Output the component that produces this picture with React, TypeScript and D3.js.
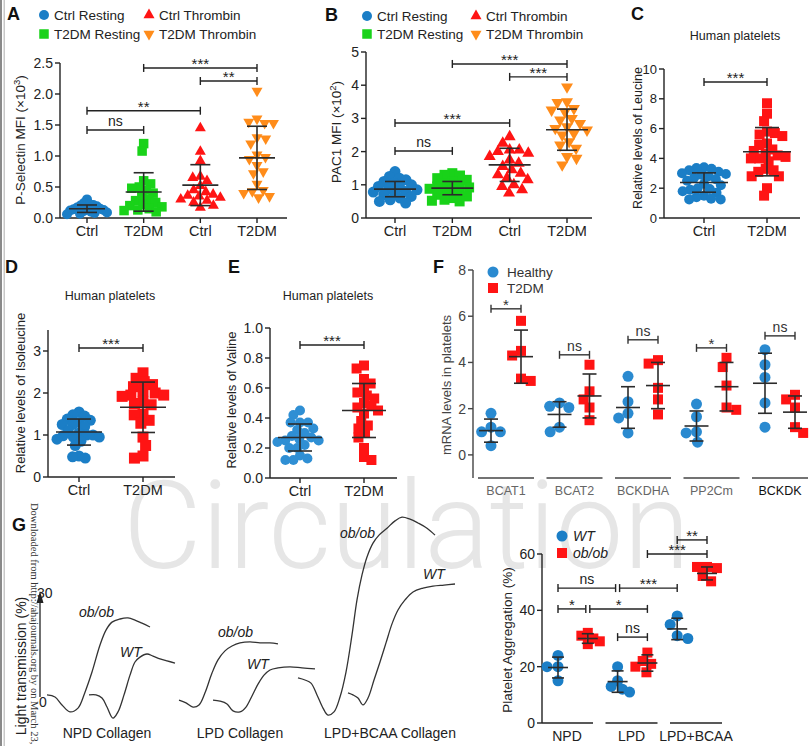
import React from 'react';
import * as d3 from 'd3';

const FONT = "'Liberation Sans', Arial, Helvetica, sans-serif";
const SERIF = "'Liberation Serif', 'DejaVu Serif', serif";
const INK = '#222222';
const ERR = '#2b2b2b';
const BLUE = '#1b7ec6';
const GREEN = '#19d219';
const RED = '#ff1414';
const ORANGE = '#ff8c1a';

// ---------- Panel A ----------
const abCategories = ['Ctrl', 'T2DM', 'Ctrl', 'T2DM'];
const abLegend = ['Ctrl Resting', 'Ctrl Thrombin', 'T2DM Resting', 'T2DM Thrombin'];
const aTicks = [0, 0.5, 1.0, 1.5, 2.0, 2.5];
const aCtrlResting = [0.30, 0.24, 0.22, 0.21, 0.20, 0.19, 0.17, 0.16, 0.15, 0.14, 0.13, 0.12, 0.11, 0.10, 0.09, 0.08, 0.07, 0.06];
const aT2dmResting = [1.20, 1.08, 0.60, 0.55, 0.50, 0.48, 0.45, 0.40, 0.35, 0.30, 0.28, 0.25, 0.22, 0.20, 0.18, 0.15, 0.13, 0.12, 0.10];
const aCtrlThrombin = [1.45, 1.07, 0.92, 0.67, 0.65, 0.60, 0.52, 0.45, 0.42, 0.38, 0.36, 0.35, 0.33, 0.30, 0.28, 0.25, 0.20, 0.17];
const aT2dmThrombin = [2.05, 1.60, 1.55, 1.53, 1.53, 1.30, 1.28, 1.20, 1.02, 0.98, 0.95, 0.85, 0.75, 0.72, 0.55, 0.45, 0.43, 0.40, 0.35, 0.33];
const aMean = [0.15, 0.42, 0.53, 0.97];
const aSd = [0.06, 0.31, 0.33, 0.51];
const aSigFrom = [0, 0, 1, 2];
const aSigTo = [1, 2, 3, 3];
const aSigLevel = [1.42, 1.73, 2.42, 2.21];
const aSigLabel = ['ns', '**', '***', '**'];

// ---------- Panel B ----------
const bTicks = [0, 1, 2, 3, 4, 5];
const bCtrlResting = [1.40, 1.25, 1.20, 1.15, 1.10, 1.05, 1.00, 0.95, 0.92, 0.88, 0.85, 0.80, 0.78, 0.75, 0.70, 0.65, 0.60, 0.55, 0.50, 0.45];
const bT2dmResting = [1.35, 1.30, 1.28, 1.20, 1.15, 1.10, 1.05, 1.00, 0.95, 0.92, 0.88, 0.85, 0.80, 0.75, 0.70, 0.65, 0.60, 0.55, 0.52, 0.50];
const bCtrlThrombin = [2.45, 2.25, 2.05, 2.05, 2.00, 1.95, 1.85, 1.75, 1.65, 1.55, 1.45, 1.35, 1.30, 1.20, 1.15, 1.00, 0.95, 0.85, 0.75];
const bT2dmThrombin = [3.95, 3.50, 3.48, 3.30, 3.25, 3.20, 3.00, 2.95, 2.85, 2.75, 2.70, 2.65, 2.55, 2.50, 2.30, 2.20, 2.10, 1.85, 1.80, 1.60];
const bMean = [0.87, 0.90, 1.60, 2.66];
const bSd = [0.23, 0.20, 0.50, 0.62];
const bSigFrom = [0, 0, 1, 2];
const bSigTo = [1, 2, 3, 3];
const bSigLevel = [2.02, 2.86, 4.64, 4.25];
const bSigLabel = ['ns', '***', '***', '***'];

// ---------- Panels C, D, E ----------
const cdeCategories = ['Ctrl', 'T2DM'];
const humanTitle = 'Human platelets';
const cTicks = [0, 2, 4, 6, 8, 10];
const cCtrl = [3.40, 3.35, 3.30, 3.20, 3.10, 3.00, 2.95, 2.90, 2.80, 2.70, 2.60, 2.50, 2.30, 2.20, 2.00, 1.95, 1.90, 1.80, 1.70, 1.50, 1.40, 1.30, 1.25, 1.25];
const cT2dm = [7.70, 7.00, 6.50, 5.80, 5.70, 5.60, 5.50, 5.00, 4.90, 4.60, 4.50, 4.30, 4.20, 4.10, 4.00, 4.00, 3.80, 3.30, 3.20, 3.10, 2.80, 2.80, 2.00, 1.50];
const cMean = [2.38, 4.45];
const cSd = [0.65, 1.62];
const cSigLevel = 9.13;

const dTicks = [0, 1, 2, 3];
const dCtrl = [1.55, 1.48, 1.45, 1.38, 1.35, 1.30, 1.25, 1.25, 1.20, 1.10, 1.05, 1.00, 1.00, 0.98, 0.95, 0.95, 0.90, 0.85, 0.75, 0.50, 0.48, 0.45];
const dT2dm = [2.48, 2.35, 2.27, 2.20, 2.15, 2.05, 2.00, 1.95, 1.95, 1.92, 1.80, 1.75, 1.72, 1.50, 1.48, 1.35, 1.28, 0.95, 0.75, 0.50, 0.45];
const dMean = [1.07, 1.66];
const dSd = [0.31, 0.60];
const dSigLevel = 3.07;

const eTicks = [0, 0.2, 0.4, 0.6, 0.8, 1.0];
const eCtrl = [0.45, 0.42, 0.37, 0.37, 0.37, 0.33, 0.32, 0.30, 0.28, 0.27, 0.26, 0.25, 0.25, 0.24, 0.22, 0.20, 0.20, 0.15, 0.13, 0.12, 0.12];
const eT2dm = [0.75, 0.73, 0.66, 0.63, 0.60, 0.57, 0.55, 0.53, 0.50, 0.48, 0.47, 0.45, 0.43, 0.38, 0.35, 0.33, 0.30, 0.27, 0.20, 0.14, 0.12];
const eMean = [0.27, 0.45];
const eSd = [0.09, 0.18];
const eSigLevel = 0.887;

// ---------- Panel F ----------
const fGenes = ['BCAT1', 'BCAT2', 'BCKDHA', 'PP2Cm', 'BCKDK'];
const fLegend = ['Healthy', 'T2DM'];
const fTicks = [0, 2, 4, 6, 8];
const fHealthy = [
  [1.8, 1.2, 1.0, 1.0, 0.4],
  [2.25, 2.1, 2.05, 1.2, 1.0],
  [3.4, 2.3, 1.8, 1.6, 0.95],
  [2.2, 1.65, 1.0, 0.95, 0.55],
  [4.55, 3.9, 3.35, 2.25, 1.2],
];
const fT2dm = [
  [5.8, 4.5, 4.3, 3.3, 3.2],
  [3.9, 2.75, 2.4, 2.05, 1.5],
  [4.1, 3.95, 2.9, 2.4, 1.75],
  [4.2, 3.8, 3.0, 2.05, 1.95],
  [2.6, 2.4, 2.05, 1.2, 0.95],
];
const fHealthyMean = [1.05, 1.75, 2.05, 1.25, 3.1];
const fHealthySd = [0.5, 0.55, 0.9, 0.65, 1.3];
const fT2dmMean = [4.25, 2.55, 3.0, 2.95, 1.85];
const fT2dmSd = [1.15, 0.95, 1.0, 1.05, 0.7];
const fSigLabel = ['*', 'ns', 'ns', '*', 'ns'];
const fSigLevel = [6.32, 4.33, 4.98, 4.63, 5.15];

// ---------- Panel G (traces) ----------
const gConditions = ['NPD Collagen', 'LPD Collagen', 'LPD+BCAA Collagen'];
const npdObT = [2, 10, 17, 25, 33, 40, 47, 55, 61, 67, 75, 83, 90, 97, 105];
const npdObV = [0.6, 0, -2.3, -4.3, -3.2, 1.4, 7.2, 15.0, 19.3, 21.6, 22.5, 22.8, 22.2, 21.3, 20.2];
const npdWtT = [44, 51, 57, 62, 68, 73, 79, 85, 90, 95, 102, 108, 115, 122, 130];
const npdWtV = [0.6, 0.6, -0.3, -2.9, -6.1, -4.3, 0.6, 6.3, 10.1, 11.5, 12.4, 11.8, 11.0, 10.4, 9.8];
const lpdObT = [134, 141, 148, 154, 160, 167, 173, 180, 187, 195, 205, 215, 225, 233];
const lpdObV = [-0.9, -1.7, -2.9, -2.3, 1.2, 6.9, 10.7, 13.3, 14.7, 15.6, 15.9, 15.6, 15.6, 15.3];
const lpdWtT = [168, 175, 182, 188, 195, 201, 207, 213, 219, 225, 233, 245, 257, 270];
const lpdWtV = [-0.9, -1.2, -2.0, -4.0, -4.3, -2.9, 0.3, 3.7, 6.3, 7.8, 8.4, 8.7, 8.4, 8.1];
const bcaaObT = [253, 260, 266, 272, 278, 283, 289, 295, 301, 307, 312, 317, 322, 328, 334, 342, 350, 357, 365, 373, 382, 390];
const bcaaObV = [5.5, 4.9, 4.0, 0.6, -3.2, -5.2, -4.3, 0, 7.2, 17.9, 28.0, 35.2, 40.4, 44.4, 46.7, 48.7, 50.8, 51.9, 51.3, 50.2, 48.7, 46.7];
const bcaaWtT = [303, 308, 313, 318, 323, 329, 335, 341, 347, 353, 360, 368, 378, 388, 399, 410];
const bcaaWtV = [1.2, 0.6, -0.3, -2.3, -0.3, 4.9, 10.1, 15.6, 21.1, 25.1, 28.0, 30.3, 31.4, 32.0, 32.3, 32.6];

// ---------- Panel G (aggregation) ----------
const gCategories = ['NPD', 'LPD', 'LPD+BCAA'];
const gLegend = ['WT', 'ob/ob'];
const gTicks = [0, 20, 40, 60];
const gGroups = [
  [24, 20, 20, 15],
  [32, 31, 30, 29, 28],
  [20, 15, 13, 12, 11],
  [25, 22, 21, 20, 18],
  [38, 35, 31, 30],
  [55.4, 55.4, 55, 52.2, 50.3],
];
const gMean = [19.7, 30, 14.7, 21.3, 33.4, 53.1];
const gSd = [3.7, 1.7, 3.8, 2.9, 3.8, 2.3];
const gSigFrom = [0, 2, 0, 1, 2, 3, 4];
const gSigTo = [2, 4, 1, 3, 3, 5, 5];
const gSigLevel = [47.9, 47.9, 40.5, 40.5, 30.5, 60, 65];
const gSigLabel = ['ns', '***', '*', '*', 'ns', '***', '**'];

type Shape = 'circle' | 'square' | 'up' | 'down';

function swarm(py: number[], d: number): number[] {
  const order = py.map((_, i) => i).sort((a, b) => py[a] - py[b]);
  const placed: { x: number; y: number }[] = [];
  const out = new Array(py.length).fill(0);
  let flip = 1;
  for (const i of order) {
    const y = py[i];
    const blocks: [number, number][] = [];
    for (const q of placed) {
      const dy = Math.abs(q.y - y);
      if (dy < d) {
        const w = Math.sqrt(d * d - dy * dy);
        blocks.push([q.x - w, q.x + w]);
      }
    }
    const cands = [0];
    for (const [a, b] of blocks) cands.push(a, b);
    cands.sort((u, v) => Math.abs(u) - Math.abs(v) || (u - v) * flip);
    let chosen = 0;
    for (const c of cands) {
      if (blocks.every(([a, b]) => c <= a + 1e-6 || c >= b - 1e-6)) {
        chosen = c;
        break;
      }
    }
    if (chosen !== 0) flip = -flip;
    out[i] = chosen;
    placed.push({ x: chosen, y });
  }
  return out;
}

function Marker({ shape, x, y, s, color }: { shape: Shape; x: number; y: number; s: number; color: string }) {
  if (shape === 'circle') return <circle cx={x} cy={y} r={s / 2} fill={color} />;
  if (shape === 'square') return <rect x={x - s / 2} y={y - s / 2} width={s} height={s} fill={color} />;
  const h = s * 0.87;
  if (shape === 'up')
    return <path d={`M${x},${y - (h * 2) / 3}L${x + s / 2},${y + h / 3}L${x - s / 2},${y + h / 3}Z`} fill={color} />;
  return <path d={`M${x},${y + (h * 2) / 3}L${x + s / 2},${y - h / 3}L${x - s / 2},${y - h / 3}Z`} fill={color} />;
}

function Cluster(p: {
  cx: number; values: number[]; mean: number; sd: number; y: (v: number) => number;
  shape: Shape; color: string; size: number; meanHalf: number; capHalf: number; spread?: number; maxHalf?: number;
}) {
  const py = p.values.map((v) => p.y(v));
  let off = swarm(py, p.size * (p.spread ?? 0.85));
  if (p.maxHalf) {
    const m = d3.max(off, (o) => Math.abs(o)) || 0;
    if (m > p.maxHalf) off = off.map((o) => (o * p.maxHalf!) / m);
  }
  const yt = p.y(p.mean + p.sd);
  const yb = p.y(p.mean - p.sd);
  const ym = p.y(p.mean);
  return (
    <g>
      {p.values.map((v, i) => (
        <Marker key={i} shape={p.shape} x={p.cx + off[i]} y={py[i]} s={p.size} color={p.color} />
      ))}
      <g stroke={ERR} strokeWidth={1.6}>
        <line x1={p.cx} x2={p.cx} y1={yt} y2={yb} />
        <line x1={p.cx - p.meanHalf} x2={p.cx + p.meanHalf} y1={ym} y2={ym} />
        <line x1={p.cx - p.capHalf} x2={p.cx + p.capHalf} y1={yt} y2={yt} />
        <line x1={p.cx - p.capHalf} x2={p.cx + p.capHalf} y1={yb} y2={yb} />
      </g>
    </g>
  );
}

function SigBar({ x1, x2, y, label, color = INK }: { x1: number; x2: number; y: number; label: string; color?: string }) {
  const star = label.includes('*');
  return (
    <g>
      <g stroke={color} strokeWidth={1.4}>
        <line x1={x1} x2={x2} y1={y} y2={y} />
        <line x1={x1} x2={x1} y1={y - 4} y2={y + 4} />
        <line x1={x2} x2={x2} y1={y - 4} y2={y + 4} />
      </g>
      <text x={(x1 + x2) / 2} y={star ? y + 1 : y - 4} textAnchor="middle" fontSize={star ? 15 : 14} fill={color}>
        {label}
      </text>
    </g>
  );
}

function YAxis({ x, scale, ticks, fmt, lo, hi, color = INK, fs = 14 }: {
  x: number; scale: (v: number) => number; ticks: number[]; fmt: (v: number) => string; lo: number; hi: number; color?: string; fs?: number;
}) {
  return (
    <g>
      <line x1={x} x2={x} y1={scale(lo)} y2={scale(hi)} stroke={color} strokeWidth={1.4} />
      {ticks.map((t) => (
        <g key={t}>
          <line x1={x - 5} x2={x} y1={scale(t)} y2={scale(t)} stroke={color} strokeWidth={1.4} />
          <text x={x - 7} y={scale(t)} dy="0.36em" textAnchor="end" fontSize={fs} fill={color}>
            {fmt(t)}
          </text>
        </g>
      ))}
    </g>
  );
}

function XCatAxis({ x0, x1, y, xs, labels }: { x0: number; x1: number; y: number; xs: number[]; labels: string[] }) {
  return (
    <g>
      <line x1={x0} x2={x1} y1={y} y2={y} stroke={INK} strokeWidth={1.4} />
      {xs.map((x, i) => (
        <g key={i}>
          <line x1={x} x2={x} y1={y} y2={y + 5} stroke={INK} strokeWidth={1.4} />
          <text x={x} y={y + 18} textAnchor="middle" fontSize={14.5} fill={INK}>
            {labels[i]}
          </text>
        </g>
      ))}
    </g>
  );
}

function VLabel({ x, y, children, fs = 13, color = INK }: { x: number; y: number; children: React.ReactNode; fs?: number; color?: string }) {
  return (
    <text transform={`translate(${x},${y}) rotate(-90)`} textAnchor="middle" fontSize={fs} fill={color}>
      {children}
    </text>
  );
}

function insets(from: number[], to: number[], level: number[]) {
  return from.map((a, i) => {
    let ia = 0;
    let ib = 0;
    from.forEach((a2, j) => {
      if (j === i || level[j] !== level[i]) return;
      const b2 = to[j];
      if (a2 === a || b2 === a) ia = 2;
      if (a2 === to[i] || b2 === to[i]) ib = 2;
    });
    return [ia, ib];
  });
}

function Legend4({ x1, x2, y1, y2 }: { x1: number; x2: number; y1: number; y2: number }) {
  const pos = [
    [x1, y1], [x2, y1], [x1, y2], [x2, y2],
  ];
  const shapes: Shape[] = ['circle', 'up', 'square', 'down'];
  const colors = [BLUE, RED, GREEN, ORANGE];
  return (
    <g>
      {abLegend.map((l, i) => (
        <g key={l}>
          <Marker shape={shapes[i]} x={pos[i][0]} y={pos[i][1]} s={shapes[i] === 'circle' ? 10 : shapes[i] === 'square' ? 9.5 : 11} color={colors[i]} />
          <text x={pos[i][0] + 10} y={pos[i][1] + 5} fontSize={13.5} fill={INK}>
            {l}
          </text>
        </g>
      ))}
    </g>
  );
}

export default function App() {
  const fmt1 = d3.format('.1f');
  const fmt0 = d3.format('d');
  const seriesShapes: Shape[] = ['circle', 'square', 'up', 'down'];
  const seriesColors = [BLUE, GREEN, RED, ORANGE];

  const yA = d3.scaleLinear().domain([0, 2.5]).range([218, 63]);
  const xA = d3.scaleLinear().domain([0, 3]).range([87, 257]);
  const aSeries = [aCtrlResting, aT2dmResting, aCtrlThrombin, aT2dmThrombin];
  const aIns = insets(aSigFrom, aSigTo, aSigLevel);
  const aMax = [20, 22, 20, 24];

  const yB = d3.scaleLinear().domain([0, 5]).range([218, 52]);
  const xB = d3.scaleLinear().domain([0, 3]).range([395, 567]);
  const bSeries = [bCtrlResting, bT2dmResting, bCtrlThrombin, bT2dmThrombin];
  const bIns = insets(bSigFrom, bSigTo, bSigLevel);
  const bMax = [22, 24, 22, 24];

  const yC = d3.scaleLinear().domain([0, 10]).range([218, 69]);
  const xC = d3.scaleLinear().domain([0, 1]).range([704, 767]);
  const yD = d3.scaleLinear().domain([0, 3.5]).range([477, 330]);
  const xD = d3.scaleLinear().domain([0, 1]).range([79, 143]);
  const yE = d3.scaleLinear().domain([0, 1]).range([478, 328]);
  const xE = d3.scaleLinear().domain([0, 1]).range([300, 364]);
  const yF = d3.scaleLinear().domain([-1, 8]).range([478, 270]);
  const xF = d3.scaleLinear().domain([0, 4]).range([506, 780]);

  const xT = d3.scaleLinear().domain([0, 410]).range([45, 455]);
  const yT = d3.scaleLinear().domain([0, 30]).range([697, 593]);
  const traceLine = d3
    .line<[number, number]>()
    .x((d) => xT(d[0]))
    .y((d) => yT(d[1]))
    .curve(d3.curveCatmullRom.alpha(0.5));
  const traces = [
    [npdObT, npdObV], [npdWtT, npdWtV], [lpdObT, lpdObV], [lpdWtT, lpdWtV], [bcaaObT, bcaaObV], [bcaaWtT, bcaaWtV],
  ].map(([t, v]) => traceLine(t.map((tt, i) => [tt, v[i]] as [number, number])) as string);

  const yG = d3.scaleLinear().domain([0, 60]).range([723, 554]);
  const xG = d3.scaleLinear().domain([0, 5]).range([558, 707]);
  const xGc = d3.scaleLinear().domain([0, 2]).range([567, 696]);
  const gIns = insets(gSigFrom, gSigTo, gSigLevel);

  const catIdx4 = [0, 1, 2, 3];

  return (
    <svg width={810} height={746} style={{ position: 'absolute', left: 0, top: 0, background: '#fff' }} fontFamily={FONT}>
      <rect x={0} y={0} width={810} height={746} fill="#fff" />
      <text
        x={123}
        y={568}
        fontSize={122}
        fontFamily="Roboto, 'Open Sans', 'Liberation Sans', sans-serif"
        fontWeight={300}
        fill="#e6e6e6"
        textLength={567}
        lengthAdjust="spacingAndGlyphs"
      >
        Circulation
      </text>
      <rect x={0} y={0} width={2} height={746} fill="#8a8a8a" />
      <rect x={3.5} y={0} width={1.5} height={746} fill="#c8c8c8" />

      {/* Panel A */}
      <text x={7} y={20} fontSize={18} fontWeight="bold" fill="#111">A</text>
      <Legend4 x1={44} x2={149} y1={15} y2={34} />
      <YAxis x={60} scale={yA} ticks={aTicks} fmt={fmt1} lo={0} hi={2.5} />
      <XCatAxis x0={60} x1={287} y={yA(0)} xs={catIdx4.map((i) => xA(i))} labels={abCategories} />
      {aSeries.map((s, i) => (
        <Cluster key={i} cx={xA(i)} values={s} mean={aMean[i]} sd={aSd[i]} y={yA} shape={seriesShapes[i]} color={seriesColors[i]} size={i === 0 ? 10 : i === 1 ? 9.5 : 11} meanHalf={18} capHalf={10} spread={0.8} maxHalf={aMax[i]} />
      ))}
      {aSigLabel.map((l, i) => (
        <SigBar key={i} x1={xA(aSigFrom[i]) + aIns[i][0]} x2={xA(aSigTo[i]) - aIns[i][1]} y={yA(aSigLevel[i])} label={l} />
      ))}
      <VLabel x={25} y={140} fs={13.5}>
        <tspan>P-Selectin MFI (×10</tspan>
        <tspan dy={-5} fontSize={9.5}>3</tspan>
        <tspan dy={5}>)</tspan>
      </VLabel>

      {/* Panel B */}
      <text x={325} y={21} fontSize={18} fontWeight="bold" fill="#111">B</text>
      <Legend4 x1={367} x2={476} y1={16} y2={34} />
      <YAxis x={366} scale={yB} ticks={bTicks} fmt={fmt0} lo={0} hi={5} />
      <XCatAxis x0={366} x1={592} y={yB(0)} xs={catIdx4.map((i) => xB(i))} labels={abCategories} />
      {bSeries.map((s, i) => (
        <Cluster key={i} cx={xB(i)} values={s} mean={bMean[i]} sd={bSd[i]} y={yB} shape={seriesShapes[i]} color={seriesColors[i]} size={i === 0 ? 11 : i === 1 ? 10 : 12} meanHalf={21} capHalf={10} spread={0.8} maxHalf={bMax[i]} />
      ))}
      {bSigLabel.map((l, i) => (
        <SigBar key={i} x1={xB(bSigFrom[i]) + bIns[i][0]} x2={xB(bSigTo[i]) - bIns[i][1]} y={yB(bSigLevel[i])} label={l} />
      ))}
      <VLabel x={341} y={132} fs={13.5}>
        <tspan>PAC1 MFI (×10</tspan>
        <tspan dy={-5} fontSize={9.5}>2</tspan>
        <tspan dy={5}>)</tspan>
      </VLabel>

      {/* Panel C */}
      <text x={631} y={20} fontSize={18} fontWeight="bold" fill="#111">C</text>
      <text x={735} y={40} textAnchor="middle" fontSize={12.5} fill={INK}>{humanTitle}</text>
      <YAxis x={664} scale={yC} ticks={cTicks} fmt={fmt0} lo={0} hi={10} fs={13} />
      <XCatAxis x0={664} x1={800} y={yC(0)} xs={[xC(0), xC(1)]} labels={cdeCategories} />
      <Cluster cx={xC(0)} values={cCtrl} mean={cMean[0]} sd={cSd[0]} y={yC} shape="circle" color={BLUE} size={10} meanHalf={24} capHalf={12} spread={0.8} maxHalf={22} />
      <Cluster cx={xC(1)} values={cT2dm} mean={cMean[1]} sd={cSd[1]} y={yC} shape="square" color={RED} size={10} meanHalf={24} capHalf={12} spread={0.8} maxHalf={24} />
      <SigBar x1={xC(0)} x2={xC(1)} y={yC(cSigLevel)} label="***" />
      <VLabel x={642} y={138} fs={12.5}>Relative levels of Leucine</VLabel>

      {/* Panel D */}
      <text x={5} y={273} fontSize={18} fontWeight="bold" fill="#111">D</text>
      <text x={110} y={300} textAnchor="middle" fontSize={12.5} fill={INK}>{humanTitle}</text>
      <YAxis x={48} scale={yD} ticks={dTicks} fmt={fmt0} lo={0} hi={3.5} />
      <XCatAxis x0={48} x1={175} y={yD(0)} xs={[xD(0), xD(1)]} labels={cdeCategories} />
      <Cluster cx={xD(0)} values={dCtrl} mean={dMean[0]} sd={dSd[0]} y={yD} shape="circle" color={BLUE} size={11} meanHalf={23} capHalf={12} spread={0.8} maxHalf={22} />
      <Cluster cx={xD(1)} values={dT2dm} mean={dMean[1]} sd={dSd[1]} y={yD} shape="square" color={RED} size={11} meanHalf={23} capHalf={12} spread={0.8} maxHalf={24} />
      <SigBar x1={xD(0)} x2={xD(1)} y={yD(dSigLevel)} label="***" />
      <VLabel x={25} y={393}>Relative levels of Isoleucine</VLabel>

      {/* Panel E */}
      <text x={228} y={273} fontSize={18} fontWeight="bold" fill="#111">E</text>
      <text x={328} y={300} textAnchor="middle" fontSize={12.5} fill={INK}>{humanTitle}</text>
      <YAxis x={270} scale={yE} ticks={eTicks} fmt={fmt1} lo={0} hi={1} />
      <XCatAxis x0={270} x1={397} y={yE(0)} xs={[xE(0), xE(1)]} labels={cdeCategories} />
      <Cluster cx={xE(0)} values={eCtrl} mean={eMean[0]} sd={eSd[0]} y={yE} shape="circle" color="#2f8fd4" size={10} meanHalf={22} capHalf={12} spread={0.8} maxHalf={24} />
      <Cluster cx={xE(1)} values={eT2dm} mean={eMean[1]} sd={eSd[1]} y={yE} shape="square" color={RED} size={10} meanHalf={22} capHalf={12} spread={0.8} maxHalf={22} />
      <SigBar x1={xE(0)} x2={xE(1)} y={yE(eSigLevel)} label="***" />
      <VLabel x={236} y={400}>Relative levels of Valine</VLabel>

      {/* Panel F */}
      <text x={433} y={273} fontSize={18} fontWeight="bold" fill="#111">F</text>
      <YAxis x={473} scale={yF} ticks={fTicks} fmt={fmt0} lo={-1} hi={8} color="#444" />
      <VLabel x={451} y={385} color="#444">mRNA levels in platelets</VLabel>
      {fGenes.map((g, i) => (
        <g key={g}>
          <line x1={xF(i) - 28} x2={xF(i) + 28} y1={yF(-1)} y2={yF(-1)} stroke="#444" strokeWidth={1.4} />
          <text x={xF(i)} y={495} textAnchor="middle" fontSize={12.5} fill={i === 4 ? '#111' : '#666'}>{g}</text>
          <Cluster cx={xF(i) - 15} values={fHealthy[i]} mean={fHealthyMean[i]} sd={fHealthySd[i]} y={yF} shape="circle" color="#2a8ad0" size={11} meanHalf={12} capHalf={7} spread={0.95} maxHalf={12} />
          <Cluster cx={xF(i) + 15} values={fT2dm[i]} mean={fT2dmMean[i]} sd={fT2dmSd[i]} y={yF} shape="square" color={RED} size={10} meanHalf={12} capHalf={7} spread={1.0} maxHalf={12} />
          <SigBar x1={xF(i) - 15} x2={xF(i) + 15} y={yF(fSigLevel[i])} label={fSigLabel[i]} color="#333" />
        </g>
      ))}
      <Marker shape="circle" x={493} y={272} s={11} color="#2a8ad0" />
      <text x={507} y={277} fontSize={13.5} fill="#333">{fLegend[0]}</text>
      <Marker shape="square" x={493} y={288} s={10} color={RED} />
      <text x={507} y={293} fontSize={13.5} fill="#333">{fLegend[1]}</text>

      {/* Panel G traces */}
      <text x={12} y={531} fontSize={18} fontWeight="bold" fill="#111">G</text>
      <text transform="translate(31,503) rotate(90)" fontFamily={SERIF} fontSize={10.5} fill="#333">
        Downloaded from http://ahajournals.org by on March 23, 2020
      </text>
      <VLabel x={26} y={666} fs={14}>Light transmission (%)</VLabel>
      <line x1={40} x2={40} y1={yT(0)} y2={yT(30) + 8} stroke="#222" strokeWidth={1.3} />
      <path d={`M40,${yT(30) - 2}L43.5,${yT(30) + 10}L36.5,${yT(30) + 10}Z`} fill="#222" />
      <text x={37} y={yT(30) + 5} fontSize={14} fill={INK}>30</text>
      <text x={39} y={yT(0) + 10} fontSize={14} fill={INK}>0</text>
      {traces.map((d, i) => (
        <path key={i} d={d} fill="none" stroke="#333" strokeWidth={1.3} />
      ))}
      <g fontSize={14} fontStyle="italic" fill={INK}>
        <text x={79} y={617}>ob/ob</text>
        <text x={120} y={657}>WT</text>
        <text x={218} y={637}>ob/ob</text>
        <text x={247} y={669}>WT</text>
        <text x={340} y={538}>ob/ob</text>
        <text x={423} y={579}>WT</text>
      </g>
      <text x={107} y={738} textAnchor="middle" fontSize={14} fill={INK}>{gConditions[0]}</text>
      <text x={240} y={738} textAnchor="middle" fontSize={14} fill={INK}>{gConditions[1]}</text>
      <text x={390} y={738} textAnchor="middle" fontSize={14} fill={INK}>{gConditions[2]}</text>

      {/* Panel G aggregation */}
      <YAxis x={542} scale={yG} ticks={gTicks} fmt={fmt0} lo={0} hi={60} />
      <VLabel x={512} y={640} fs={13.5}>Platelet Aggregation (%)</VLabel>
      {gCategories.map((c, i) => (
        <g key={c}>
          <line x1={i === 0 ? 542 : xGc(i) - 26} x2={xGc(i) + 26} y1={yG(0)} y2={yG(0)} stroke={INK} strokeWidth={1.4} />
          <text x={xGc(i)} y={741} textAnchor="middle" fontSize={14} fill={INK}>{c}</text>
        </g>
      ))}
      {gGroups.map((vals, i) => (
        <Cluster key={i} cx={xG(i)} values={vals} mean={gMean[i]} sd={gSd[i]} y={yG} shape={i % 2 === 0 ? 'circle' : 'square'} color={i % 2 === 0 ? BLUE : RED} size={i % 2 === 0 ? 11 : 10} meanHalf={10} capHalf={6} spread={1.0} maxHalf={12} />
      ))}
      {gSigLabel.map((l, i) => (
        <SigBar key={i} x1={xG(gSigFrom[i]) + gIns[i][0]} x2={xG(gSigTo[i]) - gIns[i][1]} y={yG(gSigLevel[i])} label={l} />
      ))}
      <Marker shape="circle" x={562} y={536} s={11} color={BLUE} />
      <text x={573} y={541} fontSize={14} fontStyle="italic" fill={INK}>{gLegend[0]}</text>
      <Marker shape="square" x={562} y={553} s={10} color={RED} />
      <text x={573} y={558} fontSize={14} fontStyle="italic" fill={INK}>{gLegend[1]}</text>
    </svg>
  );
}
